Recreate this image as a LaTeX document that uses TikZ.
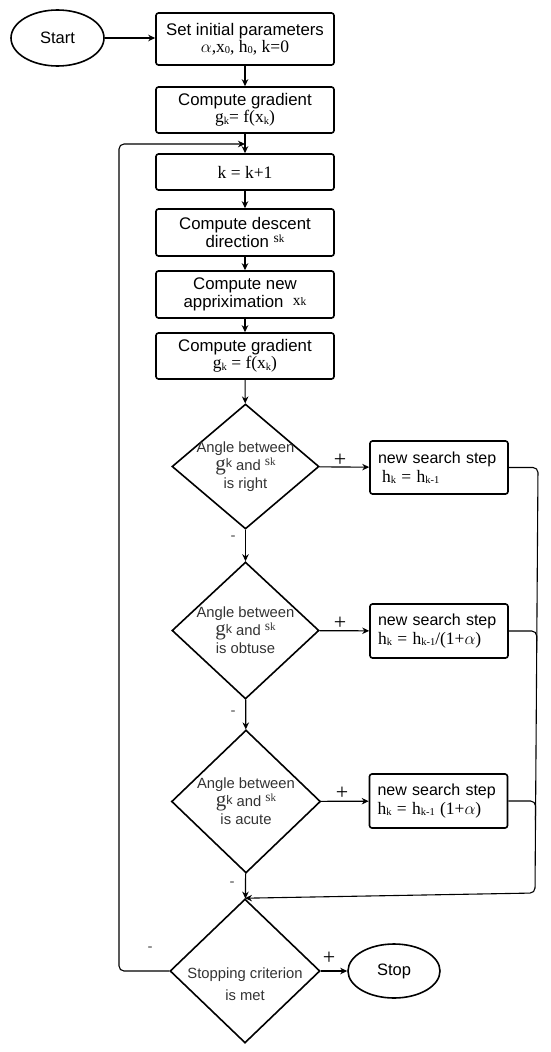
\documentclass[tikz,border=0pt]{standalone}
\usepackage{fontspec}
\setmainfont{Liberation Sans}
\newfontfamily\serf{Liberation Serif}
\usetikzlibrary{shapes.geometric,arrows.meta}
\newcommand\sub[1]{\raisebox{-1.5pt}{\fontsize{10.5}{10}\selectfont #1}}
\newcommand\gk{{\serf\fontsize{21}{20}\selectfont g}\raisebox{2.5pt}{\fontsize{12.5}{12}\selectfont k}}
\newcommand\skk{\raisebox{5pt}{\serf\fontsize{13.5}{12}\selectfont s\fontsize{11}{10}\selectfont k}}
\newcommand\xk{\raisebox{2pt}{\serf\fontsize{15.5}{15}\selectfont x\fontsize{11.5}{11}\selectfont k}}
\begin{document}
\begin{tikzpicture}[x=1pt,y=-1pt,
  box/.style={draw,line width=1.6pt,rounded corners=2.5pt,minimum width=178pt,inner sep=0pt,align=center,font=\fontsize{16.8}{18}\selectfont},
  sbox/.style={draw,line width=1.6pt,rounded corners=2.5pt,minimum width=138pt,minimum height=54pt,inner xsep=8pt,inner ysep=0pt,text width=122pt,align=left,font=\fontsize{16}{19}\selectfont},
  dia/.style={draw,diamond,line width=1.6pt,inner sep=0pt},
  dtext/.style={align=center,text=black!80,font=\fontsize{14.8}{18}\selectfont},
  term/.style={draw,ellipse,line width=1.6pt,inner sep=0pt,font=\fontsize{16.5}{18}\selectfont},
  conn/.style={line width=1.1pt},
  arr/.style={conn,-{Stealth[length=7pt,width=6.5pt]}},
  plus/.style={font=\serf\fontsize{22}{22}\selectfont},
  minus/.style={text=black!70,font=\fontsize{15}{14}\selectfont}]
\useasboundingbox (0,0) rectangle (550,1052);

\node[term,minimum width=93pt,minimum height=56pt] (start) at (57.5,38) {Start};
\node[box,minimum height=52pt] (b1) at (245,39) {Set initial parameters\\[-1pt]{\serf\fontsize{17.5}{18}\selectfont$\alpha$,x\sub0, h\sub0, k=0}};
\node[box,minimum height=46pt] (b2) at (245,110) {Compute gradient\\[-1pt]{\serf\fontsize{17.5}{18}\selectfont g\sub{k}= f(x\sub{k})}};
\node[box,minimum height=36pt] (b3) at (245,172) {{\serf\fontsize{17.5}{18}\selectfont k = k+1}};
\node[box,minimum height=47pt] (b4) at (245,232.5) {Compute descent\\direction \skk};
\node[box,minimum height=47pt] (b5) at (245,294.5) {Compute new\\appriximation\; \xk};
\node[box,minimum height=46pt] (b6) at (245,356) {Compute gradient\\[-1pt]{\serf\fontsize{17.5}{18}\selectfont g\sub{k} = f(x\sub{k})}};

\node[dia,minimum width=147pt,minimum height=125pt] (d1) at (245.5,466.5) {};
\node[dtext] (t1) at (d1) {Angle between\\\gk\ and \skk\\is right};
\node[dia,minimum width=147pt,minimum height=137pt] (d2) at (245.5,630.5) {};
\node[dtext] (t2) at (d2) {Angle between\\\gk\ and \skk\\is obtuse};
\node[dia,minimum width=149pt,minimum height=143pt] (d3) at (246,801.5) {};
\node[dtext] (t3) at (d3) {Angle between\\\gk\ and \skk\\is acute};
\node[dia,minimum width=150pt,minimum height=144pt] (d4) at (245,971) {};
\node[dtext] (t4) at ([yshift=-13pt]d4.center) {Stopping criterion\\[4pt]is met};

\node[sbox,minimum height=53pt] (s1) at (439,467.5) {new search step\\\hspace{4pt}{\serf\fontsize{17.5}{18}\selectfont h\sub{k} = h\sub{k-1}}};
\node[sbox] (s2) at (439,631) {new search step\\{\serf\fontsize{17.5}{18}\selectfont h\sub{k} = h\sub{k-1}/(1+$\alpha$)}};
\node[sbox,minimum width=137pt] (s3) at (438.5,801) {new search step\\{\serf\fontsize{17.5}{18}\selectfont h\sub{k} = h\sub{k-1} (1+$\alpha$)}};

\node[term,minimum width=92pt,minimum height=54pt] (stop) at (394,971) {Stop};

% main flow
\draw[arr] (start.east) -- (start.east -| b1.west);
\draw[arr] (b1) -- (b2);
\draw[arr] (b2) -- (b3);
\draw[arr] (b3) -- (b4);
\draw[arr] (b4) -- (b5);
\draw[arr] (b5) -- (b6);
\draw[arr] (b6) -- (d1);
\draw[arr] (d1) -- (d2);
\draw[arr] (d2) -- (d3);
\draw[arr] (d3) -- (d4);
\draw[arr] (d1) -- (s1);
\draw[arr] (d2) -- (s2);
\draw[arr] (d3) -- (s3);
\draw[arr] (d4) -- (stop);

% right collector
\coordinate (r1) at (538,467.5);
\coordinate (r2) at (535,893);
\coordinate (r3) at (536.8,631);
\coordinate (r3b) at (536.6,650);
\coordinate (r4) at (535.6,801);
\coordinate (r4b) at (535.4,820);
\draw[arr,rounded corners=5pt] (s1.east) -- (r1) -- (r2) -- (d4.north);
\draw[conn,rounded corners=5pt] (s2.east) -- (r3) -- (r3b);
\draw[conn,rounded corners=5pt] (s3.east) -- (r4) -- (r4b);

% loop back
\coordinate (l1) at (119,971);
\coordinate (l2) at (119,144);
\coordinate (l3) at (245,144);
\draw[arr,rounded corners=5pt] (d4.west) -- (l1) -- (l2) -- (l3);

% labels
\node[plus] (p1) at (340,460) {+};
\node[plus] (p2) at (340,623) {+};
\node[plus] (p3) at (342,793) {+};
\node[plus] (p4) at (329,958) {+};
\node[minus] (m1) at (233,538) {-};
\node[minus] (m2) at (233,713) {-};
\node[minus] (m3) at (232,884) {-};
\node[minus] (m4) at (150,949) {-};
\end{tikzpicture}
\end{document}
